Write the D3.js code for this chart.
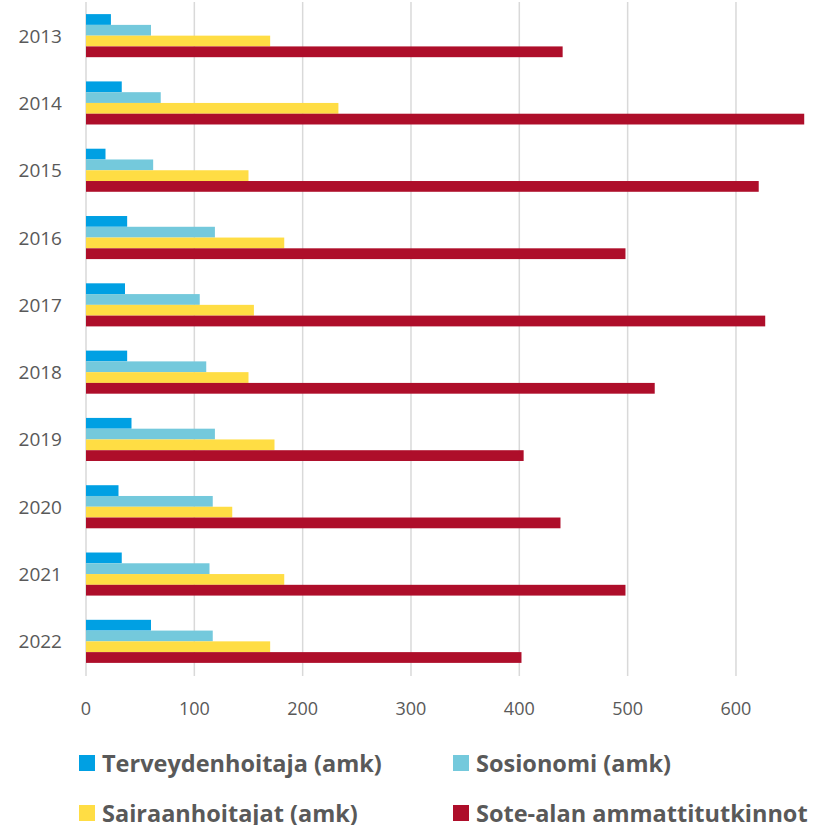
<!DOCTYPE html>
<html lang="fi">
<head>
<meta charset="UTF-8">
<title>Valmistuneet 2013–2022</title>
<script src="https://d3js.org/d3.v7.min.js"></script>
<style>
  body { margin: 0; background: #fff; }
  svg { display: block; font-family: 'Open Sans', 'Lato', sans-serif; }
  .year { font-size: 19px; fill: #595959; }
  .xtick { font-size: 18px; fill: #595959; }
  .legend text { font-size: 23.5px; font-weight: bold; fill: #595959; }
</style>
</head>
<body>
<svg width="821" height="825"></svg>
<script>
// data
const years = ["2013","2014","2015","2016","2017","2018","2019","2020","2021","2022"];
const seriesNames = ["Terveydenhoitaja (amk)", "Sosionomi (amk)", "Sairaanhoitajat (amk)", "Sote-alan ammattitutkinnot"];
const terveydenhoitaja = [23, 33, 18, 38, 36, 38, 42, 30, 33, 60];
const sosionomi = [60, 69, 62, 119, 105, 111, 119, 117, 114, 117];
const sairaanhoitajat = [170, 233, 150, 183, 155, 150, 174, 135, 183, 170];
const sote = [440, 663, 621, 498, 627, 525, 404, 438, 498, 402];
const xTicks = [0, 100, 200, 300, 400, 500, 600];
const colors = ["#00A0E3", "#74C9DC", "#FFDD44", "#AE0E2A"];

const allSeries = [terveydenhoitaja, sosionomi, sairaanhoitajat, sote];

const svg = d3.select("svg");

const x = d3.scaleLinear().domain([0, 700]).range([86, 86 + 758.3]);
const y = d3.scaleBand().domain(years).range([2, 675]).paddingInner(0.36).paddingOuter(0.18);
const ySub = d3.scaleBand().domain(d3.range(4)).range([0, y.bandwidth()]);

// gridlines
svg.append("g").selectAll("line")
  .data(xTicks)
  .join("line")
  .attr("x1", d => x(d)).attr("x2", d => x(d))
  .attr("y1", 2).attr("y2", 676)
  .attr("stroke", "#d9d9d9")
  .attr("stroke-width", 1.5);

// bars
const groups = svg.append("g").selectAll("g")
  .data(years)
  .join("g")
  .attr("transform", d => `translate(0,${y(d)})`);

groups.selectAll("rect")
  .data((d, i) => allSeries.map((s, k) => ({ k, v: s[i] })))
  .join("rect")
  .attr("x", x(0))
  .attr("y", d => ySub(d.k))
  .attr("width", d => x(d.v) - x(0))
  .attr("height", ySub.bandwidth())
  .attr("fill", d => colors[d.k]);

// year labels
svg.append("g").selectAll("text")
  .data(years)
  .join("text")
  .attr("class", "year")
  .attr("x", 62)
  .attr("y", d => y(d) + y.bandwidth() / 2 + 7)
  .attr("text-anchor", "end")
  .text(d => d);

// x axis labels
svg.append("g").selectAll("text")
  .data(xTicks)
  .join("text")
  .attr("class", "xtick")
  .attr("x", d => x(d))
  .attr("y", 715)
  .attr("text-anchor", "middle")
  .text(d => d);

// legend
const legendPos = [[79, 763], [453, 763], [79, 813], [453, 813]];
const legend = svg.append("g").attr("class", "legend").selectAll("g")
  .data(seriesNames)
  .join("g")
  .attr("transform", (d, i) => `translate(${legendPos[i][0]},${legendPos[i][1]})`);
legend.append("rect")
  .attr("x", 0).attr("y", -8)
  .attr("width", 16).attr("height", 16)
  .attr("fill", (d, i) => colors[i]);
legend.append("text")
  .attr("x", 23).attr("y", 9)
  .text(d => d);
</script>
</body>
</html>
